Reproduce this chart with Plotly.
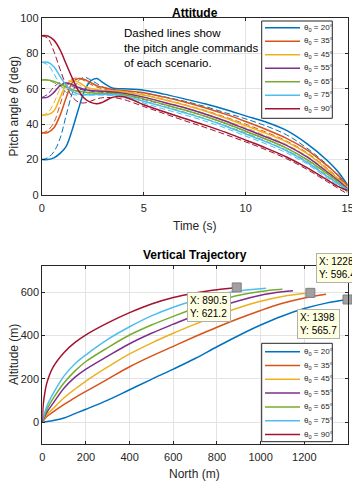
import plotly.graph_objects as go

# the page body keeps its default 8px margin, so the figure is drawn 8px smaller
# and every reference pixel position is shifted by that offset
PAGE_W, PAGE_H = 360, 482
OFF = 8
W, H = PAGE_W - OFF, PAGE_H - OFF
FONT = "Liberation Sans"
AX = "#262626"

angles = [20, 35, 45, 55, 65, 75, 90]
colors = ["#0072BD", "#D95319", "#EDB120", "#7E2F8E", "#77AC30", "#4DBEEE", "#A2142F"]

# --- attitude: time grid shared by response and command curves
t_pitch = [0, 0.3, 0.6, 0.9, 1.2, 1.5, 1.8, 2.1, 2.4, 2.7, 3.0, 3.5, 4, 5, 6, 7, 8, 9, 10, 11, 12, 13, 14, 14.5, 15]

pitch_20 = [20, 20, 21, 23.5, 27.5, 37, 48.5, 59, 64.5, 65.8, 63.5, 60.3, 60, 59.2, 57, 54.3, 51.5, 48.3, 44.7, 41.2, 36.5, 29, 19.5, 13.5, 5.5]
pitch_35 = [35, 35.3, 38, 45, 55, 63.5, 65.8, 65.3, 63.5, 61.8, 60.8, 59.5, 59, 57.8, 55.3, 52.5, 49.3, 45.7, 41.5, 37, 32, 25.5, 16.5, 11.5, 5]
pitch_45 = [45, 45.4, 47.5, 55, 62.2, 64.6, 63.8, 61.5, 60.2, 59.6, 59.2, 58.8, 58.3, 56.5, 53.8, 50.8, 47.5, 43.5, 39.2, 34.8, 30, 23.5, 14.5, 9.5, 4]
pitch_55 = [55, 55.3, 58, 61.8, 63.3, 62.3, 60.8, 59.6, 59, 58.7, 58.5, 58.2, 57.5, 55.3, 52.3, 49.3, 45.8, 41.8, 37.3, 32.8, 28, 21.5, 13, 8.5, 3.5]
pitch_65 = [65, 65, 64.2, 62.8, 61, 59.5, 58.7, 58.2, 57.8, 57.6, 57.4, 57.2, 56.8, 54.3, 51.2, 48, 44.5, 40.5, 36, 31.5, 26.5, 20, 12, 7.5, 3]
pitch_75 = [75, 75, 72.5, 67, 62, 58.5, 57, 56.7, 56.7, 56.8, 56.8, 56.7, 56, 53, 49.8, 46.5, 43, 39, 34.5, 30, 25, 18.5, 10.5, 6.5, 3]
pitch_90 = [90, 89.8, 87.5, 82, 74, 66, 59, 54.5, 52.3, 51.5, 52.5, 55.3, 55.5, 51, 47, 43.2, 39.5, 35.5, 31, 26.5, 21.5, 15.5, 8.5, 5, 2.5]

cmd_20 = [20, 21, 24.5, 32, 45, 57.5, 64.5, 66.5, 65, 63, 61, 59.3, 58.8, 57.5, 55.5, 53, 50, 46.5, 43, 39, 34, 26.5, 17, 11, 3]
cmd_35 = [35, 36.5, 41, 51, 61, 65.5, 66, 64.5, 62.5, 61, 60, 59, 58.3, 56.5, 54, 51, 47.8, 44, 40, 35.5, 30.5, 24, 15, 10, 2.5]
cmd_45 = [45, 46.5, 52, 60, 64, 64.5, 62.5, 60.5, 59.5, 59, 58.5, 58, 57.5, 55.3, 52.5, 49.5, 46, 42, 38, 33.5, 28.5, 22, 13.5, 8.5, 2]
cmd_55 = [55, 57, 61, 63.5, 63, 61.3, 60, 59.2, 58.7, 58.3, 58, 57.6, 56.8, 54, 51, 48, 44.5, 40.5, 36, 31.5, 26.5, 20, 12, 7.5, 2]
cmd_65 = [65, 64.8, 63.5, 61.5, 59.8, 58.8, 58.2, 57.8, 57.5, 57.3, 57.1, 56.8, 56, 53, 50, 46.8, 43.2, 39.2, 35, 30.3, 25.3, 19, 11, 6.5, 1.5]
cmd_75 = [75, 73.5, 68.5, 62.5, 58, 56.8, 56.5, 56.5, 56.5, 56.5, 56.5, 56.2, 55.3, 52, 48.5, 45.3, 41.8, 37.8, 33.3, 28.8, 23.8, 17.5, 9.5, 5.5, 1]
cmd_90 = [90, 88.5, 81, 71, 62, 55.5, 52.5, 52, 53, 54.3, 55, 55, 54, 50, 46, 42, 38.2, 34.2, 30, 25.5, 20.5, 14.5, 7.5, 4, 0.5]

# --- vertical trajectory
north_20 = [0, 50, 100, 150, 200, 300, 400, 500, 600, 700, 800, 900, 1000, 1100, 1200, 1300, 1398]
alt_20 = [0, 8, 20, 40, 60, 102, 150, 198, 245, 294, 348, 400, 448, 490, 524, 549, 565.7]
north_35 = [0, 20, 50, 100, 150, 200, 300, 400, 500, 600, 700, 800, 900, 1000, 1100, 1200, 1300]
alt_35 = [0, 26, 48, 82, 114, 142, 199, 256, 305, 350, 395, 438, 478, 515, 548, 573, 590]
north_45 = [0, 20, 50, 100, 150, 200, 300, 400, 500, 600, 700, 800, 900, 1000, 1100, 1228]
alt_45 = [0, 34, 64, 113, 153, 190, 255, 315, 365, 410, 452, 492, 528, 558, 580, 596.4]
north_55 = [0, 20, 50, 100, 150, 200, 300, 400, 500, 600, 700, 800, 900, 1000, 1100, 1148]
alt_55 = [0, 45, 88, 158, 208, 245, 305, 362, 410, 452, 492, 528, 560, 585, 601, 606]
north_65 = [0, 20, 50, 100, 150, 200, 300, 400, 500, 600, 700, 800, 900, 1000, 1100]
alt_65 = [0, 57, 110, 182, 237, 280, 344, 402, 448, 488, 525, 558, 585, 603, 613]
north_75 = [0, 20, 50, 100, 150, 200, 300, 400, 500, 600, 700, 800, 900, 1000, 1025]
alt_75 = [0, 72, 133, 214, 270, 311, 382, 440, 490, 530, 562, 588, 605, 615, 617]
north_90 = [0, 2, 5, 10, 20, 50, 100, 150, 200, 300, 400, 500, 600, 700, 800, 890.5]
alt_90 = [0, 50, 88, 125, 178, 255, 322, 368, 403, 458, 505, 545, 575, 596, 611, 621.2]

tip_x = [890.5, 1228, 1398]
tip_y = [621.2, 596.4, 565.7]

note_text = "Dashed lines show<br>the pitch angle commands<br>of each scenario."

pitch_all = [pitch_20, pitch_35, pitch_45, pitch_55, pitch_65, pitch_75, pitch_90]
cmd_all = [cmd_20, cmd_35, cmd_45, cmd_55, cmd_65, cmd_75, cmd_90]
north_all = [north_20, north_35, north_45, north_55, north_65, north_75, north_90]
alt_all = [alt_20, alt_35, alt_45, alt_55, alt_65, alt_75, alt_90]


def px_x(p):
    # page pixel -> paper fraction
    return (p - OFF) / W


def px_y(p):
    return 1 - (p - OFF) / H


fig = go.Figure()

for a, c, cmd in zip(angles, colors, cmd_all):
    fig.add_trace(go.Scatter(x=t_pitch, y=cmd, mode="lines", line=dict(color=c, width=1, dash="6px,3px", shape="spline"),
                             showlegend=False, name=f"cmd {a}"))
for a, c, p in zip(angles, colors, pitch_all):
    fig.add_trace(go.Scatter(x=t_pitch, y=p, mode="lines", line=dict(color=c, width=1.5, shape="spline"),
                             showlegend=False, name=f"θ0 = {a}°"))
for a, c, n, h in zip(angles, colors, north_all, alt_all):
    fig.add_trace(go.Scatter(x=n, y=h, mode="lines", line=dict(color=c, width=1.5, shape="spline"),
                             showlegend=False, name=f"θ0 = {a}°", xaxis="x2", yaxis="y2"))

fig.add_trace(go.Scatter(x=tip_x, y=tip_y, mode="markers", xaxis="x2", yaxis="y2", showlegend=False, cliponaxis=False,
                         marker=dict(symbol="square", size=9, color="#a0a0a0", line=dict(color="#7f7f7f", width=1))))

axis_style = dict(showline=True, linecolor=AX, linewidth=1, mirror="ticks", ticks="inside", ticklen=3,
                  tickcolor=AX, showgrid=True, gridcolor="#e3e3e3", gridwidth=1, zeroline=False, automargin=False,
                  tickfont=dict(family=FONT, size=11, color=AX))

fig.update_layout(
    width=W, height=H, margin=dict(l=0, r=0, t=0, b=0, autoexpand=False),
    paper_bgcolor="white", plot_bgcolor="white",
    font=dict(family=FONT, color=AX),
    xaxis=dict(domain=[px_x(41.7), px_x(347.7)], range=[0, 15], tickvals=[0, 5, 10, 15], anchor="y",
               ticklabelstandoff=3, **axis_style),
    yaxis=dict(domain=[px_y(195), px_y(18)], range=[0, 100], tickvals=[0, 20, 40, 60, 80, 100], anchor="x", **axis_style),
    xaxis2=dict(domain=[px_x(42.3), px_x(347.5)], range=[0, 1398], tickvals=[0, 200, 400, 600, 800, 1000, 1200],
                anchor="y2", ticklabelstandoff=3, **axis_style),
    yaxis2=dict(domain=[px_y(444), px_y(266)], range=[-100, 720], tickvals=[0, 200, 400, 600], anchor="x2", **axis_style),
)


def label(x, y, text, size=12, color=AX, angle=0):
    fig.add_annotation(xref="paper", yref="paper", x=px_x(x), y=px_y(y), text=text, showarrow=False, textangle=angle,
                       xanchor="center", yanchor="middle", borderpad=0, font=dict(size=size, color=color))


# titles and axis labels
cx = (41.7 + 347.7) / 2
label(cx, 13.2, "<b>Attitude</b>", color="black")
label(cx, 255, "<b>Vertical Trajectory</b>", color="black")
label(cx, 225.5, "Time (s)")
label(cx, 473.5, "North (m)")
label(14, 106.5, "Pitch angle <i>θ</i> (deg)", angle=-90)
label(14, 355, "Altitude (m)", angle=-90)

# note text in the attitude axes
fig.add_annotation(xref="paper", yref="paper", x=px_x(123), y=px_y(48), text=note_text, showarrow=False,
                   xanchor="left", yanchor="middle", align="left", borderpad=0, font=dict(size=11.5, color="black"))


def add_legend(top, bottom, first_y, step):
    fig.add_shape(type="rect", xref="paper", yref="paper", x0=px_x(261.7), x1=px_x(332.3), y0=px_y(bottom), y1=px_y(top),
                  line=dict(color=AX, width=1), fillcolor="white", layer="above")
    for i, (a, c) in enumerate(zip(angles, colors)):
        yy = px_y(first_y + i * step)
        fig.add_shape(type="line", xref="paper", yref="paper", x0=px_x(265), x1=px_x(300), y0=yy, y1=yy,
                      line=dict(color=c, width=1.5), layer="above")
        fig.add_annotation(xref="paper", yref="paper", x=px_x(302.5), y=yy, text=f"θ<sub>0</sub> = {a}°", showarrow=False,
                           xanchor="left", yanchor="middle", borderpad=0, font=dict(size=8, color=AX))


add_legend(21, 118.3, 27.8, 13.5)
add_legend(343.3, 441.7, 351.7, 13.8)

# data tips
tip_pos = [("right", "top", -6, -5), ("left", "bottom", 6, 10), ("right", "top", -8, -10)]
for x, y, (xa, ya, xs, ys) in zip(tip_x, tip_y, tip_pos):
    fig.add_annotation(xref="x2", yref="y2", x=x, y=y, text=f"X: {x:g}<br>Y: {y:g}", showarrow=False, align="left",
                       xanchor=xa, yanchor=ya, xshift=xs, yshift=ys, bgcolor="#ffffe1", bordercolor="#b0b0b0",
                       borderwidth=1, borderpad=2, font=dict(size=10, color="black"))

fig.write_html("out.html")
